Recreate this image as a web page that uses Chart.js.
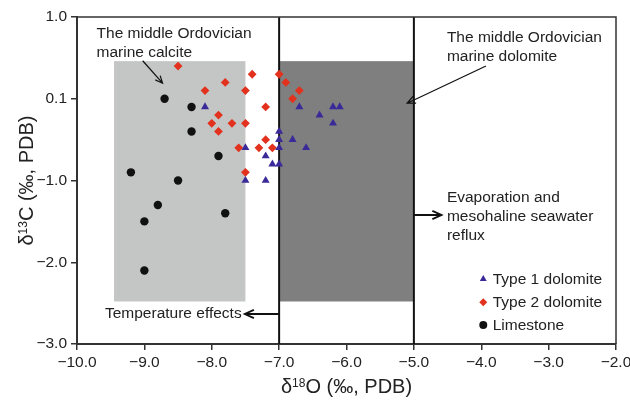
<!DOCTYPE html>
<html>
<head>
<meta charset="utf-8">
<script src="https://cdn.jsdelivr.net/npm/chart.js@4.4.0/dist/chart.umd.min.js"></script>
<style>
    html, body { margin: 0; padding: 0; background: #fff; }
</style>
</head>
<body>
<canvas id="isoChart" width="630" height="400"></canvas>
<script>
// Data (delta18O, delta13C in per mil PDB)
const type1O = [-8.1, -7.5, -7.2, -7.1, -7.0, -7.0, -7.0, -7.0, -6.8, -6.6, -6.7, -6.4, -7.5, -7.2, -6.2, -6.1, -6.2];
const type1C = [-0.1, -0.6, -0.7, -0.8, -0.8, -0.4, -0.5, -0.6, -0.5, -0.6, -0.1, -0.2, -1.0, -1.0, -0.1, -0.1, -0.3];

const type2O = [-8.5, -7.4, -7.0, -7.8, -6.9, -8.1, -7.5, -6.7, -6.8, -7.2, -7.9, -8.0, -7.7, -7.5, -7.9, -7.2, -7.6, -7.3, -7.1, -7.5];
const type2C = [0.4, 0.3, 0.3, 0.2, 0.2, 0.1, 0.1, 0.1, 0.0, -0.1, -0.2, -0.3, -0.3, -0.3, -0.4, -0.5, -0.6, -0.6, -0.6, -0.9];

const limeO = [-8.7, -8.3, -8.3, -7.9, -9.2, -8.5, -8.8, -9.0, -7.8, -9.0];
const limeC = [0.0, -0.1, -0.4, -0.7, -0.9, -1.0, -1.3, -1.5, -1.4, -2.1];

// Fields
const calciteO = [-9.45, -7.5];
const calciteC = [-2.48, 0.46];
const dolomiteO = [-7.0, -5.0];
const dolomiteC = [-2.48, 0.46];
const boundaryO = [-7.0, -5.0];

// Axis ticks
const yTickValues = [-3, -2, -1, 0, 1];
const yTickLabels = ['\u22123.0', '\u22122.0', '\u22121.0', '0.1', '1.0'];

const FONT = "'Liberation Sans', Arial, Helvetica, sans-serif";
const TEXT = '#222';
const AXIS = '#333';

function toPoints(xs, ys) {
    return xs.map((x, i) => ({ x: x, y: ys[i] }));
}

function fmt(v) {
    return (v < 0 ? '\u2212' : '') + Math.abs(v).toFixed(1);
}

// Notes, in data units
const notes = [
    { lines: ['The middle Ordovician', 'marine calcite'], x: -9.71, y: 0.747, align: 'left' },
    { lines: ['The middle Ordovician', 'marine dolomite'], x: -4.51, y: 0.691, align: 'left' },
    { lines: ['Evaporation and', 'mesohaline seawater', 'reflux'], x: -4.51, y: -1.267, align: 'left' },
    { lines: ['Temperature effects'], x: -7.556, y: -2.686, align: 'right' }
];

const arrows = [
    { from: [-9.025, 0.465], to: [-8.73, 0.19], width: 1.2, head: 8 },
    { from: [-3.93, 0.40], to: [-5.10, -0.055], width: 1.2, head: 9 },
    { from: [-5.0, -1.422], to: [-4.59, -1.422], width: 1.8, head: 10 },
    { from: [-7.0, -2.633], to: [-7.51, -2.633], width: 1.8, head: 10 }
];

function drawArrow(ctx, x0, y0, x1, y1, head) {
    const ang = Math.atan2(y1 - y0, x1 - x0);
    const spread = 0.42;
    ctx.beginPath();
    ctx.moveTo(x0, y0);
    ctx.lineTo(x1, y1);
    ctx.moveTo(x1 - head * Math.cos(ang - spread), y1 - head * Math.sin(ang - spread));
    ctx.lineTo(x1, y1);
    ctx.lineTo(x1 - head * Math.cos(ang + spread), y1 - head * Math.sin(ang + spread));
    ctx.stroke();
}

// draws "delta" + superscript + rest, centred at (cx, baseline)
function drawIsoTitle(ctx, sup, rest, cx, base) {
    const big = 20, small = 12;
    ctx.font = big + 'px ' + FONT;
    const wd = ctx.measureText('\u03b4').width;
    const wr = ctx.measureText(rest).width;
    ctx.font = small + 'px ' + FONT;
    const ws = ctx.measureText(sup).width;
    let x = cx - (wd + ws + wr) / 2;
    ctx.textAlign = 'left';
    ctx.textBaseline = 'alphabetic';
    ctx.font = big + 'px ' + FONT;
    ctx.fillText('\u03b4', x, base);
    x += wd;
    ctx.font = small + 'px ' + FONT;
    ctx.fillText(sup, x, base - 6);
    x += ws;
    ctx.font = big + 'px ' + FONT;
    ctx.fillText(rest, x, base);
}

const fieldsPlugin = {
    id: 'fields',
    beforeDatasetsDraw(chart) {
        const { ctx, chartArea: a, scales: { x, y } } = chart;
        ctx.save();
        ctx.fillStyle = '#c4c6c5';
        ctx.fillRect(x.getPixelForValue(calciteO[0]), y.getPixelForValue(calciteC[1]),
            x.getPixelForValue(calciteO[1]) - x.getPixelForValue(calciteO[0]),
            y.getPixelForValue(calciteC[0]) - y.getPixelForValue(calciteC[1]));
        ctx.fillStyle = '#7f7f7f';
        ctx.fillRect(x.getPixelForValue(dolomiteO[0]), y.getPixelForValue(dolomiteC[1]),
            x.getPixelForValue(dolomiteO[1]) - x.getPixelForValue(dolomiteO[0]),
            y.getPixelForValue(dolomiteC[0]) - y.getPixelForValue(dolomiteC[1]));

        ctx.strokeStyle = '#111';
        ctx.lineWidth = 2;
        boundaryO.forEach(v => {
            const px = x.getPixelForValue(v);
            ctx.beginPath();
            ctx.moveTo(px, a.top);
            ctx.lineTo(px, a.bottom);
            ctx.stroke();
        });
        ctx.restore();
    },
    afterDraw(chart) {
        const { ctx, chartArea: a, scales: { x, y } } = chart;
        ctx.save();

        // frame top / right
        ctx.strokeStyle = AXIS;
        ctx.lineWidth = 1.5;
        ctx.beginPath();
        ctx.moveTo(a.left, a.top);
        ctx.lineTo(a.right, a.top);
        ctx.lineTo(a.right, a.bottom);
        ctx.stroke();

        // notes
        ctx.fillStyle = TEXT;
        ctx.font = '15.5px ' + FONT;
        ctx.textBaseline = 'alphabetic';
        notes.forEach(n => {
            ctx.textAlign = n.align;
            const px = x.getPixelForValue(n.x);
            const py = y.getPixelForValue(n.y);
            n.lines.forEach((t, i) => ctx.fillText(t, px, py + i * 19));
        });

        // arrows
        ctx.strokeStyle = '#111';
        arrows.forEach(ar => {
            ctx.lineWidth = ar.width;
            drawArrow(ctx, x.getPixelForValue(ar.from[0]), y.getPixelForValue(ar.from[1]),
                x.getPixelForValue(ar.to[0]), y.getPixelForValue(ar.to[1]), ar.head);
        });

        // legend
        const lx = x.getPixelForValue(-3.97);
        const tx = x.getPixelForValue(-3.83);
        const rows = [-2.266, -2.551, -2.829];
        chart.data.datasets.forEach((ds, i) => {
            const by = y.getPixelForValue(rows[i]);
            ctx.fillStyle = ds.pointBackgroundColor;
            Chart.helpers.drawPoint(ctx, { pointStyle: ds.pointStyle, radius: 4, rotation: 0, borderWidth: 0 }, lx, by - 5);
            ctx.fillStyle = TEXT;
            ctx.textAlign = 'left';
            ctx.font = '15.5px ' + FONT;
            ctx.fillText(ds.label, tx, by);
        });

        // axis titles
        ctx.fillStyle = TEXT;
        drawIsoTitle(ctx, '18', 'O (\u2030, PDB)', (a.left + a.right) / 2, 393);
        ctx.save();
        ctx.translate(25.5, (a.top + a.bottom) / 2);
        ctx.rotate(-Math.PI / 2);
        drawIsoTitle(ctx, '13', 'C (\u2030, PDB)', 0, 7.2);
        ctx.restore();

        ctx.restore();
    }
};

new Chart(document.getElementById('isoChart'), {
    type: 'scatter',
    data: {
        datasets: [
            {
                label: 'Type 1 dolomite',
                data: toPoints(type1O, type1C),
                pointStyle: 'triangle',
                pointRadius: 4.6,
                pointBackgroundColor: '#3a2a99',
                pointBorderWidth: 0
            },
            {
                label: 'Type 2 dolomite',
                data: toPoints(type2O, type2C),
                pointStyle: 'rectRot',
                pointRadius: 4.4,
                pointBackgroundColor: '#e2311d',
                pointBorderWidth: 0
            },
            {
                label: 'Limestone',
                data: toPoints(limeO, limeC),
                pointStyle: 'circle',
                pointRadius: 4.2,
                pointBackgroundColor: '#111111',
                pointBorderWidth: 0
            }
        ]
    },
    options: {
        responsive: false,
        animation: false,
        devicePixelRatio: 1,
        events: [],
        layout: { padding: { top: 17, right: 14, left: 0, bottom: 0 } },
        plugins: {
            legend: { display: false },
            tooltip: { enabled: false }
        },
        scales: {
            x: {
                type: 'linear',
                min: -10,
                max: -2,
                border: { display: true, color: AXIS, width: 2 },
                grid: { display: true, drawOnChartArea: false, drawTicks: true, tickLength: 6, color: AXIS, lineWidth: 1.5 },
                ticks: {
                    stepSize: 1,
                    padding: 3,
                    color: TEXT,
                    font: { family: FONT, size: 15.5 },
                    maxRotation: 0,
                    callback: v => fmt(v)
                },
                afterFit: s => { s.height = 56; s.paddingLeft = 0; s.paddingRight = 0; }
            },
            y: {
                type: 'linear',
                min: -3,
                max: 1,
                border: { display: true, color: AXIS, width: 2 },
                grid: { display: true, drawOnChartArea: false, drawTicks: true, tickLength: 6, color: AXIS, lineWidth: 1.5 },
                ticks: {
                    stepSize: 1,
                    padding: 4,
                    color: TEXT,
                    font: { family: FONT, size: 15.5 },
                    callback: v => yTickLabels[yTickValues.indexOf(v)]
                },
                afterFit: s => { s.width = 77; s.paddingTop = 0; s.paddingBottom = 0; }
            }
        }
    },
    plugins: [fieldsPlugin]
});
</script>
</body>
</html>
